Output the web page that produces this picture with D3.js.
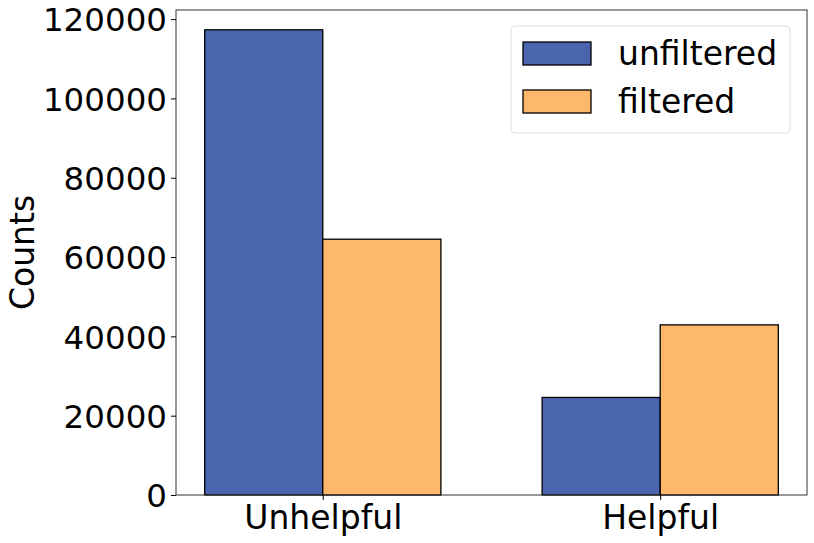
<!DOCTYPE html>
<html>
<head>
<meta charset="utf-8">
<script src="https://cdn.jsdelivr.net/npm/d3@7"></script>
<style>
  body { margin: 0; background: #fff; }
  text { font-family: "DejaVu Sans", sans-serif; fill: #000; }
</style>
</head>
<body>
<div class="canvas"></div>
<script>
// values
var categories = ['Unhelpful', 'Helpful'];
var seriesNames = ['unfiltered', 'filtered'];
var unfiltered = [117300, 24600];
var filtered = [64500, 42900];
var yTicks = [0, 20000, 40000, 60000, 80000, 100000, 120000];
var colors = ['#4a64ad', '#fdb86b'];

var width = 814, height = 543;
var margin = {left: 176, right: 7, top: 10, bottom: 48};
var innerW = width - margin.left - margin.right;
var innerH = height - margin.top - margin.bottom;

var svg = d3.select('.canvas').append('svg')
	.attr('width', width).attr('height', height);
var grp = svg.append('g')
	.attr('transform', 'translate(' + [margin.left, margin.top] + ')');

var barW = 0.35;
// matplotlib-like x limits around the two groups
var x = d3.scaleLinear()
	.domain([-0.435, 1.435])
	.range([0, innerW]);
var y = d3.scaleLinear()
	.domain([0, 122300])
	.range([innerH, 0]);

var series = [unfiltered, filtered];
series.forEach(function(vals, s) {
	grp.selectAll('rect.s' + s)
		.data(vals)
		.enter()
		.append('rect')
		.attr('class', 's' + s)
		.attr('x', function(d, i) { return x(i + (s === 0 ? -barW : 0)); })
		.attr('width', x(barW) - x(0))
		.attr('y', function(d) { return y(d); })
		.attr('height', function(d) { return innerH - y(d); })
		.attr('fill', colors[s])
		.attr('stroke', '#000')
		.attr('stroke-width', 1.3);
});

// frame
grp.append('rect')
	.attr('width', innerW).attr('height', innerH)
	.attr('fill', 'none').attr('stroke', '#333').attr('stroke-width', 1);

// y axis
var yAxis = d3.axisLeft(y).tickValues(yTicks).tickFormat(d3.format('d')).tickSize(5).tickPadding(4);
var yg = grp.append('g').call(yAxis);
yg.select('.domain').remove();
yg.selectAll('text').style('font-size', '32.5px').attr('dy', '0.36em');

// x axis
var xAxis = d3.axisBottom(x).tickValues([0, 1])
	.tickFormat(function(d) { return categories[d]; }).tickSize(5).tickPadding(3);
var xg = grp.append('g').attr('transform', 'translate(0,' + innerH + ')').call(xAxis);
xg.select('.domain').remove();
xg.selectAll('text').style('font-size', '33px').attr('dy', '0.8em');

// y label
svg.append('text')
	.attr('transform', 'translate(34,' + (margin.top + innerH / 2) + ') rotate(-90)')
	.attr('text-anchor', 'middle')
	.style('font-size', '33px')
	.text('Counts');

// legend
var leg = svg.append('g');
leg.append('rect')
	.attr('x', 511).attr('y', 26).attr('width', 279).attr('height', 107)
	.attr('rx', 4).attr('fill', '#fff').attr('fill-opacity', 0.8)
	.attr('stroke', '#ddd');
seriesNames.forEach(function(name, i) {
	leg.append('rect')
		.attr('x', 523).attr('y', 42 + i * 48)
		.attr('width', 68).attr('height', 23)
		.attr('fill', colors[i]).attr('stroke', '#000').attr('stroke-width', 1.3);
	leg.append('text')
		.attr('x', 618).attr('y', 65 + i * 48)
		.style('font-size', '33px')
		.text(name);
});
</script>
</body>
</html>
